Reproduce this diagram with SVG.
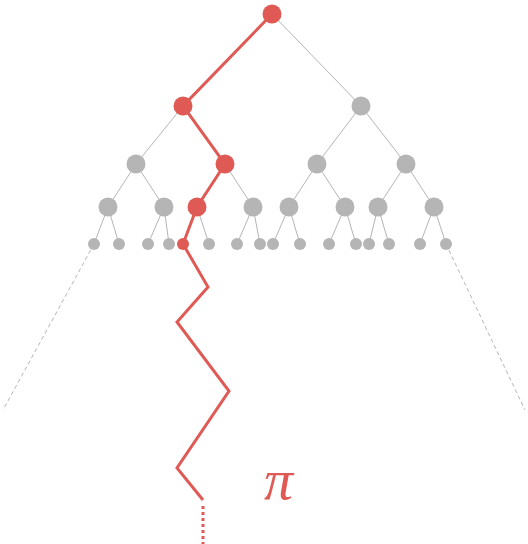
<svg xmlns="http://www.w3.org/2000/svg" width="528" height="544" viewBox="0 0 528 544">
<style>
.e{stroke:#b5b5b5;stroke-width:1;fill:none}
.d{stroke:#b5b5b5;stroke-width:1;stroke-dasharray:4 3;fill:none}
.r{stroke:#e05a55;stroke-width:3;fill:none;stroke-linejoin:miter}
.g{fill:#b5b5b5}
.rn{fill:#e05a55}
</style>
<rect width="528" height="544" fill="#fff"/>
<g id="connectors">
<path class="e" d="M272,14L361,106M183,106L136,164M361,106L317,164M361,106L406,164M136,164L108,207M136,164L164,207M225,164L253,207M317,164L289,207M317,164L345,207M406,164L378,207M406,164L434,207"/>
<path class="e" d="M108,207L94,244M108,207L119,244M164,207L148,244M164,207L169,244M197,207L209,244M253,207L237,244M253,207L260,244M289,207L273,244M289,207L300,244M345,207L329,244M345,207L356,244M378,207L369,244M378,207L389,244M434,207L420,244M434,207L446,244"/>
<path class="d" d="M94,244L3,410M446,244L525,410"/>
<path class="r" d="M272,14L183,106L225,164L197,207L183,244L208,287L177,322L229,391L177,468L203,500"/>
<path class="r" d="M203,506V544" stroke-dasharray="3 3"/>
</g>
<g id="root"><circle class="rn" cx="272" cy="14" r="9.5"/></g>
<g id="n1a"><circle class="rn" cx="183" cy="106" r="9.5"/></g>
<g id="n1b"><circle class="g" cx="361" cy="106" r="9.5"/></g>
<g id="n2a"><circle class="g" cx="136" cy="164" r="9.5"/></g>
<g id="n2b"><circle class="rn" cx="225" cy="164" r="9.5"/></g>
<g id="n2c"><circle class="g" cx="317" cy="164" r="9.5"/></g>
<g id="n2d"><circle class="g" cx="406" cy="164" r="9.5"/></g>
<g id="n3a"><circle class="g" cx="108" cy="207" r="9.5"/></g>
<g id="n3b"><circle class="g" cx="164" cy="207" r="9.5"/></g>
<g id="n3c"><circle class="rn" cx="197" cy="207" r="9.5"/></g>
<g id="n3d"><circle class="g" cx="253" cy="207" r="9.5"/></g>
<g id="n3e"><circle class="g" cx="289" cy="207" r="9.5"/></g>
<g id="n3f"><circle class="g" cx="345" cy="207" r="9.5"/></g>
<g id="n3g"><circle class="g" cx="378" cy="207" r="9.5"/></g>
<g id="n3h"><circle class="g" cx="434" cy="207" r="9.5"/></g>
<g id="leaves">
<circle class="g" cx="94" cy="244" r="6"/>
<circle class="g" cx="119" cy="244" r="6"/>
<circle class="g" cx="148" cy="244" r="6"/>
<circle class="g" cx="169" cy="244" r="6"/>
<circle class="rn" cx="183" cy="244" r="6"/>
<circle class="g" cx="209" cy="244" r="6"/>
<circle class="g" cx="237" cy="244" r="6"/>
<circle class="g" cx="260" cy="244" r="6"/>
<circle class="g" cx="273" cy="244" r="6"/>
<circle class="g" cx="300" cy="244" r="6"/>
<circle class="g" cx="329" cy="244" r="6"/>
<circle class="g" cx="356" cy="244" r="6"/>
<circle class="g" cx="369" cy="244" r="6"/>
<circle class="g" cx="389" cy="244" r="6"/>
<circle class="g" cx="420" cy="244" r="6"/>
<circle class="g" cx="446" cy="244" r="6"/>
</g>
<g id="label"><text x="264" y="499" font-family="Liberation Serif, serif" font-style="italic" font-size="58" fill="#e05a55">π</text></g>
</svg>
